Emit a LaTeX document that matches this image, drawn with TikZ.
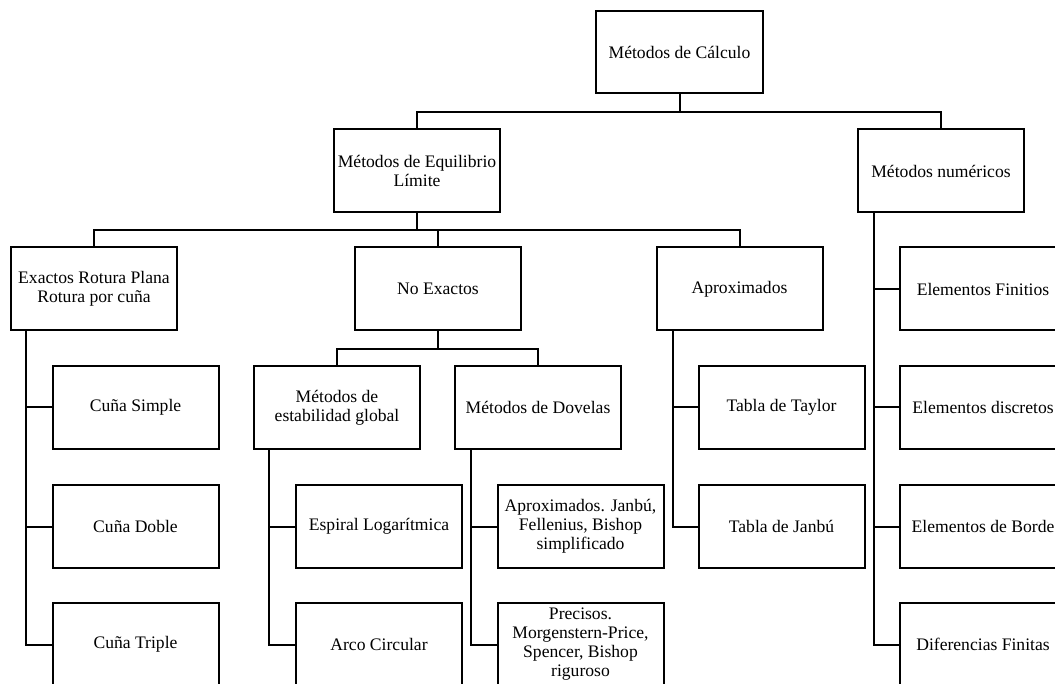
\documentclass[tikz,border=0pt]{standalone}
\usepackage{fontspec}
\setmainfont{Liberation Serif}
\begin{document}
\begin{tikzpicture}[x=1pt,y=-1pt,
  box/.style={draw,line width=2pt,minimum width=166pt,minimum height=83pt,align=center,inner sep=2pt,font=\fontsize{17.6}{19}\selectfont},
  conn/.style={line width=2pt,line join=miter}]
\useasboundingbox (0,0) rectangle (1055,684);
\clip (0,0) rectangle (1055,684);
% level 0
\node[box,minimum width=167pt,minimum height=82pt] (calc) at (679.5,52) {Métodos de Cálculo};
% level 1
\node[box] (eq) at (417,171) {Métodos de Equilibrio\\Límite};
\node[box] (num) at (941,171) {Métodos numéricos};
% level 2
\node[box] (exa) at (94,289) {Exactos Rotura Plana\\Rotura por cuña};
\node[box] (noex) at (438,289) {No Exactos};
\node[box] (aprox) at (739.5,289) {Aproximados};
% Exactos children
\node[box] (cs) at (135.5,407.5) {Cuña Simple};
\node[box] (cd) at (135.5,526.5) {Cuña Doble};
\node[box] (ct) at (135.5,644.5) {Cuña Triple};
% No exactos children
\node[box] (glob) at (337,407.5) {Métodos de\\estabilidad global};
\node[box] (dov) at (538,407.5) {Métodos de Dovelas};
\node[box] (esp) at (379,526.5) {Espiral Logarítmica};
\node[box] (arco) at (379,644.5) {Arco Circular};
\node[box] (apj) at (580.5,526.5) {Aproximados. Janbú,\\Fellenius, Bishop\\simplificado};
\node[box] (prec) at (580.5,644.5) {Precisos.\\Morgenstern-Price,\\Spencer, Bishop\\riguroso};
% Aproximados children
\node[box] (tt) at (781.5,407.5) {Tabla de Taylor};
\node[box] (tj) at (781.5,526.5) {Tabla de Janbú};
% numericos children
\node[box] (ef) at (983,289) {Elementos Finitios};
\node[box] (ed) at (983,407.5) {Elementos discretos};
\node[box] (eb) at (983,526.5) {Elementos de Borde};
\node[box] (dfin) at (983,644.5) {Diferencias Finitas};
% buses
\coordinate (b1) at (0,112);
\coordinate (b2) at (0,230);
\coordinate (b3) at (0,349);
\draw[conn] (calc.south) -- (calc.south |- b1);
\draw[conn] (eq.north) -- (eq.north |- b1) -- (num.north |- b1) -- (num.north);
\draw[conn] (eq.south) -- (eq.south |- b2);
\draw[conn] (exa.north) -- (exa.north |- b2) -- (aprox.north |- b2) -- (aprox.north);
\draw[conn] (noex.north) -- (noex.north |- b2);
\draw[conn] (noex.south) -- (noex.south |- b3);
\draw[conn] (glob.north) -- (glob.north |- b3) -- (dov.north |- b3) -- (dov.north);
% spines
\coordinate (s1) at ([xshift=16pt]exa.south west);
\draw[conn] (s1) |- (cs.west);
\draw[conn] (s1) |- (cd.west);
\draw[conn] (s1) |- (ct.west);
\coordinate (s2) at ([xshift=16pt]glob.south west);
\draw[conn] (s2) |- (esp.west);
\draw[conn] (s2) |- (arco.west);
\coordinate (s3) at ([xshift=17pt]dov.south west);
\draw[conn] (s3) |- (apj.west);
\draw[conn] (s3) |- (prec.west);
\coordinate (s4) at ([xshift=17pt]aprox.south west);
\draw[conn] (s4) |- (tt.west);
\draw[conn] (s4) |- (tj.west);
\coordinate (s5) at ([xshift=17pt]num.south west);
\draw[conn] (s5) |- (ef.west);
\draw[conn] (s5) |- (ed.west);
\draw[conn] (s5) |- (eb.west);
\draw[conn] (s5) |- (dfin.west);
\end{tikzpicture}
\end{document}
